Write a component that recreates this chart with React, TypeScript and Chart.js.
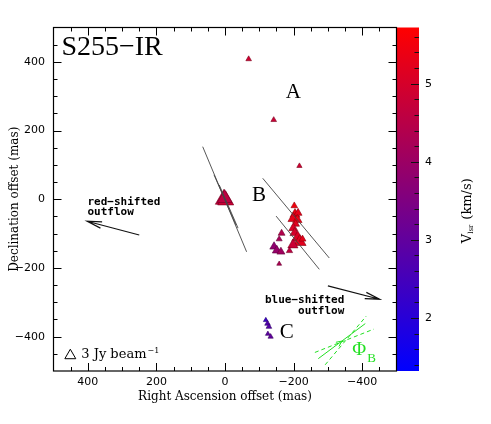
import React, { useEffect, useRef } from 'react';
import { Chart, registerables } from 'chart.js';
Chart.register(...registerables);

// ---------- axes ----------
const X_TICKS = [400, 200, 0, -200, -400];
const Y_TICKS = [400, 200, 0, -200, -400];
const AX_MIN = -500;
const AX_MAX = 500;
const V_TICKS = [2, 3, 4, 5];
const V_MIN = 1.32;
const V_MAX = 5.72;

// ---------- maser spots (RA offset mas, Dec offset mas, Vlsr km/s, flux Jy/beam) ----------
const spotRA = [
  3, -2, 1,
  -69, -142, -217,
  -202, -204, -213, -199, -211, -206, -199, -203, -212, -218, -198, -188, -226,
  -165, -158, -143, -151, -163, -158,
  -119, -124, -128, -125, -133,
];
const spotDec = [
  0, -3, 3,
  408, 231, 97,
  -19, -44, -40, -56, -60, -72, -84, -98, -112, -124, -133, -150, -116,
  -99, -116, -138, -149, -153, -188,
  -352, -362, -371, -392, -400,
];
const spotV = [
  4.7, 4.8, 4.6,
  4.9, 4.8, 4.9,
  5.5, 5.4, 5.3, 5.3, 5.4, 5.2, 5.1, 5.0, 5.1, 5.2, 4.8, 4.6, 5.3,
  4.4, 4.2, 3.8, 3.9, 4.1, 4.3,
  2.3, 2.7, 2.8, 2.9, 3.0,
];
const spotFlux = [
  7.5, 6.5, 5.5,
  0.8, 0.8, 0.7,
  1.1, 2.5, 1.6, 2.8, 2.2, 1.5, 2.0, 2.2, 3.5, 4.0, 2.6, 1.0, 1.2,
  1.2, 0.9, 1.8, 2.0, 1.6, 0.6,
  0.6, 0.8, 0.8, 0.6, 0.7,
];

// beam-flux legend symbol
const legendRA = [451];
const legendDec = [-455];
const legendFlux = [3];

// ---------- magnetic-field / polarization vectors ----------
const vecRA1 = [65, 32, 17, -110, -149];
const vecDec1 = [153, 71, 42, 61, -49];
const vecRA2 = [-63, -32, -38, -304, -275];
const vecDec2 = [-153, -75, -84, -171, -204];

// ---------- outflow arrows (tail -> head) ----------
const arrowRA1 = [250, -300];
const arrowDec1 = [-104, -252];
const arrowRA2 = [402, -451];
const arrowDec2 = [-64, -291];

// ---------- Phi_B (green) ----------
const phiRA1 = [-272, -292, -262];
const phiDec1 = [-464, -482, -446];
const phiRA2 = [-409, -412, -434];
const phiDec2 = [-362, -340, -378];
const phiDash = [false, true, true];

// ---------- annotations ----------
const labelText = ['A', 'B', 'C'];
const labelRA = [-199, -99, -180];
const labelDec = [295, -5, -404];

const vColor = (v: number, k = 1) => {
  let t = (v - V_MIN) / (V_MAX - V_MIN);
  t = Math.max(0, Math.min(1, t));
  return `rgb(${Math.round(255 * t * k)},0,${Math.round(255 * (1 - t) * k)})`;
};
const fluxRadius = (f: number) => 3.65 * Math.sqrt(f);
const fmt = (v: number) => (v < 0 ? '\u2212' + Math.abs(v) : String(v));

function drawArrow(ctx: CanvasRenderingContext2D, x1: number, y1: number, x2: number, y2: number, len: number, ang: number) {
  const a = Math.atan2(y1 - y2, x1 - x2);
  ctx.beginPath();
  ctx.moveTo(x1, y1);
  ctx.lineTo(x2, y2);
  ctx.moveTo(x2 + len * Math.cos(a + ang), y2 + len * Math.sin(a + ang));
  ctx.lineTo(x2, y2);
  ctx.lineTo(x2 + len * Math.cos(a - ang), y2 + len * Math.sin(a - ang));
  ctx.stroke();
}

const noPad = (s: any) => {
  s.paddingTop = 0;
  s.paddingBottom = 0;
  s.paddingLeft = 0;
  s.paddingRight = 0;
};

const framePlugin = {
  id: 'frame',
  afterDraw(chart: any) {
    const { ctx, chartArea: a, scales } = chart;
    const xs = scales.x, ys = scales.y, cb = scales.cb;
    const px = (v: number) => xs.getPixelForValue(v);
    const py = (v: number) => ys.getPixelForValue(v);
    ctx.save();

    // colorbar
    const cbW = 22.5;
    const g = ctx.createLinearGradient(0, cb.getPixelForValue(V_MIN), 0, cb.getPixelForValue(V_MAX));
    g.addColorStop(0, vColor(V_MIN));
    g.addColorStop(1, vColor(V_MAX));
    ctx.fillStyle = g;
    ctx.fillRect(a.right, a.top, cbW, a.bottom - a.top);
    ctx.strokeStyle = '#111';
    ctx.lineWidth = 1;
    ctx.beginPath();
    for (let v = 1.4; v <= V_MAX + 1e-6; v += 0.2) {
      const y = Math.round(cb.getPixelForValue(v)) + 0.5;
      const major = Math.abs(v - Math.round(v)) < 1e-6;
      ctx.moveTo(a.right + cbW, y);
      ctx.lineTo(a.right + cbW - (major ? 8 : 4.5), y);
    }
    ctx.stroke();

    // frame box
    ctx.strokeStyle = '#000';
    ctx.lineWidth = 1.2;
    ctx.strokeRect(a.left, a.top, a.right - a.left, a.bottom - a.top);

    // inward ticks
    ctx.lineWidth = 1;
    ctx.beginPath();
    for (let v = -450; v <= 450; v += 50) {
      const major = v % 200 === 0;
      const L = major ? 8 : 4;
      const x = Math.round(px(v)) + 0.5;
      ctx.moveTo(x, a.bottom); ctx.lineTo(x, a.bottom - L);
      ctx.moveTo(x, a.top); ctx.lineTo(x, a.top + L);
      const y = Math.round(py(v)) + 0.5;
      ctx.moveTo(a.left, y); ctx.lineTo(a.left + L, y);
      ctx.moveTo(a.right, y); ctx.lineTo(a.right - L, y);
    }
    ctx.stroke();

    // outflow arrows
    ctx.strokeStyle = '#111';
    ctx.lineWidth = 1.2;
    for (let i = 0; i < arrowRA1.length; i++) {
      drawArrow(ctx, px(arrowRA1[i]), py(arrowDec1[i]), px(arrowRA2[i]), py(arrowDec2[i]), 15, 0.22);
    }

    // Phi_B arrowhead on centre line
    ctx.strokeStyle = '#22e022';
    ctx.lineWidth = 1;
    {
      const x1 = px(phiRA1[0]), y1 = py(phiDec1[0]), x2 = px(phiRA2[0]), y2 = py(phiDec2[0]);
      const mx = (x1 + x2) / 2, my = (y1 + y2) / 2;
      const a2 = Math.atan2(y1 - y2, x1 - x2);
      ctx.beginPath();
      ctx.moveTo(mx + 6 * Math.cos(a2 + 0.45), my + 6 * Math.sin(a2 + 0.45));
      ctx.lineTo(mx, my);
      ctx.lineTo(mx + 6 * Math.cos(a2 - 0.45), my + 6 * Math.sin(a2 - 0.45));
      ctx.stroke();
    }

    // texts
    ctx.fillStyle = '#000';
    ctx.textBaseline = 'alphabetic';
    ctx.textAlign = 'left';
    ctx.font = '28px "Liberation Serif"';
    ctx.fillText('S255\u2212IR', px(477), py(420));

    ctx.font = '21px "Liberation Serif"';
    ctx.textAlign = 'center';
    for (let i = 0; i < labelText.length; i++) {
      ctx.fillText(labelText[i], px(labelRA[i]), py(labelDec[i]));
    }

    ctx.font = 'bold 11px "DejaVu Sans Mono"';
    ctx.textAlign = 'left';
    ctx.fillText('red\u2212shifted', px(401), py(-17));
    ctx.fillText('outflow', px(401), py(-47));
    ctx.textAlign = 'right';
    ctx.fillText('blue\u2212shifted', px(-348), py(-302));
    ctx.fillText('outflow', px(-348), py(-333));

    ctx.textAlign = 'left';
    ctx.font = '13px "DejaVu Serif"';
    const lx = px(419), ly = py(-461);
    ctx.fillText('3 Jy beam', lx, ly);
    const w = ctx.measureText('3 Jy beam').width;
    ctx.font = '8px "DejaVu Serif"';
    ctx.fillText('\u22121', lx + w + 1, ly - 5);

    ctx.fillStyle = '#22e022';
    ctx.font = '19px "Liberation Serif"';
    ctx.textAlign = 'center';
    ctx.fillText('\u03A6', px(-391), py(-453));
    ctx.font = '13px "Liberation Serif"';
    ctx.textAlign = 'left';
    ctx.fillText('B', px(-415), py(-474));

    // colorbar title V_lsr (km/s)
    ctx.fillStyle = '#000';
    ctx.save();
    ctx.translate(471, (a.top + a.bottom) / 2 + 44);
    ctx.rotate(-Math.PI / 2);
    ctx.textAlign = 'left';
    ctx.font = '13px "DejaVu Serif"';
    ctx.fillText('V', 0, 0);
    let off = ctx.measureText('V').width;
    ctx.font = '7px "DejaVu Serif"';
    ctx.fillText('lsr', off, 2);
    off += ctx.measureText('lsr').width + 5;
    ctx.font = '13px "DejaVu Serif"';
    ctx.fillText('(km/s)', off, 0);
    ctx.restore();

    ctx.restore();
  },
};

export default function App() {
  const ref = useRef<HTMLCanvasElement | null>(null);
  useEffect(() => {
    if (!ref.current) return;
    const datasets: any[] = [];
    for (let i = 0; i < vecRA1.length; i++) {
      datasets.push({
        type: 'scatter', showLine: true, order: 0,
        data: [{ x: vecRA1[i], y: vecDec1[i] }, { x: vecRA2[i], y: vecDec2[i] }],
        borderColor: '#444', borderWidth: 0.9, pointRadius: 0,
      });
    }
    for (let i = 0; i < phiRA1.length; i++) {
      datasets.push({
        type: 'scatter', showLine: true, order: 0,
        data: [{ x: phiRA1[i], y: phiDec1[i] }, { x: phiRA2[i], y: phiDec2[i] }],
        borderColor: '#22e022', borderWidth: 1, pointRadius: 0,
        borderDash: phiDash[i] ? [4, 3] : [],
      });
    }
    datasets.push({
      type: 'scatter', order: 1,
      data: spotRA.map((x, i) => ({ x, y: spotDec[i] })),
      pointStyle: 'triangle',
      pointRadius: spotFlux.map(fluxRadius),
      backgroundColor: spotV.map((v) => vColor(v)),
      borderColor: spotV.map((v) => vColor(v, 0.6)),
      borderWidth: 0.6,
    });
    datasets.push({
      type: 'scatter', order: 1,
      data: legendRA.map((x, i) => ({ x, y: legendDec[i] })),
      pointStyle: 'triangle',
      pointRadius: legendFlux.map(fluxRadius),
      backgroundColor: 'rgba(255,255,255,0)',
      borderColor: '#000',
      borderWidth: 1,
    });

    const tickFont = { family: '"DejaVu Sans"', size: 11 };
    const chart = new Chart(ref.current, {
      type: 'scatter',
      data: { datasets },
      plugins: [framePlugin],
      options: {
        animation: false,
        responsive: false,
        devicePixelRatio: 1,
        layout: { padding: { top: 27.5, left: 0, right: 0, bottom: 0 } },
        plugins: { legend: { display: false }, tooltip: { enabled: false } },
        scales: {
          x: {
            type: 'linear', position: 'bottom', reverse: true, min: AX_MIN, max: AX_MAX,
            grid: { display: false, drawTicks: false }, border: { display: false },
            afterBuildTicks: (s: any) => { s.ticks = X_TICKS.map((v) => ({ value: v })); },
            afterFit: (s: any) => { s.height = 53; noPad(s); },
            ticks: { padding: 5, font: tickFont, color: '#000', maxRotation: 0, autoSkip: false, callback: (v: any) => fmt(Number(v)) },
            title: { display: true, text: 'Right Ascension offset (mas)', color: '#000', font: { family: '"DejaVu Serif"', size: 12 }, padding: { top: 0, bottom: 20 } },
          },
          y: {
            type: 'linear', position: 'left', min: AX_MIN, max: AX_MAX,
            grid: { display: false, drawTicks: false }, border: { display: false },
            afterBuildTicks: (s: any) => { s.ticks = Y_TICKS.map((v) => ({ value: v })); },
            afterFit: (s: any) => { s.width = 53.5; noPad(s); },
            ticks: { padding: 8.5, font: tickFont, color: '#000', autoSkip: false, callback: (v: any) => fmt(Number(v)) },
            title: { display: true, text: 'Declination offset (mas)', color: '#000', font: { family: '"DejaVu Serif"', size: 12 }, padding: { top: 7.4, bottom: 0 } },
          },
          cb: {
            type: 'linear', position: 'right', min: V_MIN, max: V_MAX,
            grid: { display: false, drawTicks: false }, border: { display: false },
            afterBuildTicks: (s: any) => { s.ticks = V_TICKS.map((v) => ({ value: v })); },
            afterFit: (s: any) => { s.width = 94.5; noPad(s); },
            ticks: { padding: 28.5, font: tickFont, color: '#000', autoSkip: false },
          },
        },
      } as any,
    });
    return () => chart.destroy();
  }, []);
  return (
    <div style={{ position: 'absolute', left: 0, top: 0, width: 491, height: 424, background: '#fff' }}>
      <canvas ref={ref} width={491} height={424} style={{ display: 'block' }} />
    </div>
  );
}
